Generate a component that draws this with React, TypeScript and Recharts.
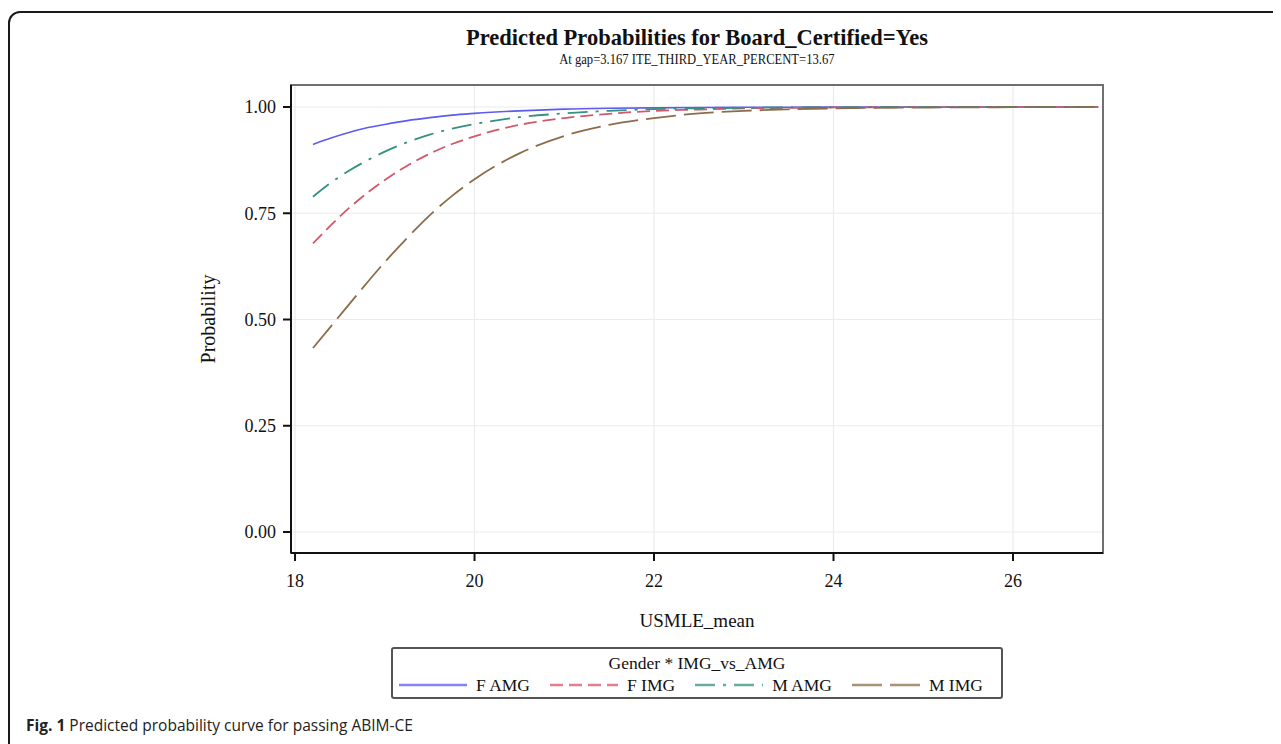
import React from 'react';
import { CartesianGrid, Line, LineChart, ReferenceArea, XAxis, YAxis } from 'recharts';

// USMLE_mean grid the curves were read at
const usmle = [18.2, 18.4, 18.6, 18.8, 19, 19.25, 19.5, 19.75, 20, 20.5, 21, 21.5, 22, 22.5, 23, 23.5, 24, 25, 26, 26.95];

const fAmg = [0.912, 0.927, 0.94, 0.951, 0.959, 0.968, 0.975, 0.981, 0.985, 0.991, 0.995, 0.997, 0.998, 0.999, 0.9993, 0.9996, 0.9998, 0.9999, 1, 1];
const fImg = [0.679, 0.722, 0.762, 0.797, 0.828, 0.862, 0.89, 0.913, 0.931, 0.958, 0.974, 0.984, 0.991, 0.994, 0.997, 0.998, 0.999, 0.9996, 0.9998, 1];
const mAmg = [0.789, 0.822, 0.85, 0.874, 0.895, 0.917, 0.935, 0.949, 0.96, 0.976, 0.985, 0.991, 0.995, 0.997, 0.998, 0.9989, 0.9993, 0.9998, 1, 1];
const mImg = [0.433, 0.484, 0.535, 0.586, 0.635, 0.692, 0.745, 0.791, 0.83, 0.891, 0.932, 0.958, 0.974, 0.985, 0.991, 0.9944, 0.9967, 0.9988, 0.9996, 1];

const xTicks = [18, 20, 22, 24, 26];
const yTicks = [0, 0.25, 0.5, 0.75, 1];

const series = [
  { key: 'fAmg', name: 'F AMG', color: '#5c5cf0', dash: undefined as string | undefined, width: 1.6 },
  { key: 'fImg', name: 'F IMG', color: '#d05a6a', dash: '13 6', width: 1.8 },
  { key: 'mAmg', name: 'M AMG', color: '#35907f', dash: '20 8 3 8', width: 1.8 },
  { key: 'mImg', name: 'M IMG', color: '#8c6c4a', dash: '30 8', width: 1.8 },
];

const chartData = usmle.map((x, i) => ({
  x,
  fAmg: fAmg[i],
  fImg: fImg[i],
  mAmg: mAmg[i],
  mImg: mImg[i],
}));

const serif = '"Liberation Serif", "Times New Roman", serif';
const X_DOMAIN: [number, number] = [17.955, 27.003];
const Y_DOMAIN: [number, number] = [-0.0494, 1.0518];

export default function App() {
  return (
    <div style={{ position: 'relative', width: 1273, height: 736, overflow: 'hidden', background: '#fff' }}>
      <div
        style={{
          position: 'absolute',
          left: 0,
          top: 3,
          width: 1400,
          height: 800,
          border: '2px solid #1a1a1a',
          borderRadius: 12,
          boxSizing: 'border-box',
        }}
      />
      <div style={{ position: 'absolute', left: 283, width: 812, top: 18, textAlign: 'center', fontFamily: serif, color: '#111' }}>
        <div style={{ fontSize: 22.5, fontWeight: 'bold', lineHeight: '24px' }}>
          Predicted Probabilities for Board_Certified=Yes
        </div>
        <div style={{ fontSize: 15, lineHeight: '18px' }}>
          <span style={{ display: 'inline-block', transform: 'scaleX(0.84)' }}>
            At gap=3.167 ITE_THIRD_YEAR_PERCENT=13.67
          </span>
        </div>
      </div>

      <div style={{ position: 'absolute', left: 0, top: 0 }}>
        <LineChart width={1273} height={736} data={chartData} margin={{ top: 77, right: 178, left: 0, bottom: 141 }}>
          <CartesianGrid stroke="#ebebeb" strokeWidth={1.2} />
          <ReferenceArea
            x1={X_DOMAIN[0]}
            x2={X_DOMAIN[1]}
            y1={Y_DOMAIN[0]}
            y2={Y_DOMAIN[1]}
            fill="none"
            stroke="#707070"
            strokeWidth={2}
          />
          <XAxis
            dataKey="x"
            type="number"
            domain={X_DOMAIN}
            ticks={xTicks}
            allowDataOverflow
            height={50}
            tickSize={8}
            tickMargin={13}
            stroke="#111"
            strokeWidth={2}
            tick={{ fill: '#111', fontSize: 18, fontFamily: serif }}
            label={{ value: 'USMLE_mean', position: 'bottom', offset: 11, fill: '#111', fontSize: 19, fontFamily: serif }}
          />
          <YAxis
            type="number"
            domain={Y_DOMAIN}
            ticks={yTicks}
            allowDataOverflow
            width={283}
            tickSize={8}
            tickMargin={7}
            stroke="#111"
            strokeWidth={2}
            tickFormatter={(v: number) => v.toFixed(2)}
            tick={{ fill: '#111', fontSize: 18, fontFamily: serif }}
            label={(props: any) => {
              const vb = props.viewBox;
              const cx = 200;
              const cy = vb.y + vb.height / 2;
              return (
                <text
                  x={cx}
                  y={cy}
                  transform={`rotate(-90 ${cx} ${cy})`}
                  textAnchor="middle"
                  dominantBaseline="central"
                  fill="#111"
                  fontSize={20}
                  fontFamily={serif}
                >
                  Probability
                </text>
              );
            }}
          />
          {series.map((s) => (
            <Line
              key={s.key}
              type="monotone"
              dataKey={s.key}
              name={s.name}
              stroke={s.color}
              strokeWidth={s.width}
              strokeDasharray={s.dash}
              dot={false}
              isAnimationActive={false}
            />
          ))}
        </LineChart>
      </div>

      <div
        style={{
          position: 'absolute',
          left: 383,
          top: 639,
          width: 612,
          height: 52,
          border: '2px solid #555',
          borderRadius: 3,
          boxSizing: 'border-box',
          fontFamily: serif,
          fontSize: 17.5,
          color: '#111',
        }}
      >
        <div style={{ textAlign: 'center', lineHeight: '20px', marginTop: 4 }}>Gender * IMG_vs_AMG</div>
        <div style={{ display: 'flex', alignItems: 'center', paddingLeft: 6, lineHeight: '20px', marginTop: 2, whiteSpace: 'nowrap' }}>
          {series.map((s) => (
            <div key={s.key} style={{ display: 'flex', alignItems: 'center', marginRight: 20, flexShrink: 0 }}>
              <svg width={68} height={6} style={{ marginRight: 9, flexShrink: 0 }}>
                <line x1={0} y1={3} x2={68} y2={3} stroke={s.color} strokeOpacity={0.75} strokeWidth={2.5} strokeDasharray={s.dash} />
              </svg>
              <span>{s.name}</span>
            </div>
          ))}
        </div>
      </div>

      <div
        style={{
          position: 'absolute',
          left: 18,
          top: 706,
          fontFamily: '"Open Sans", "Noto Sans", sans-serif',
          fontSize: 15.5,
          color: '#222',
        }}
      >
        <b>Fig. 1</b> Predicted probability curve for passing ABIM-CE
      </div>
    </div>
  );
}
